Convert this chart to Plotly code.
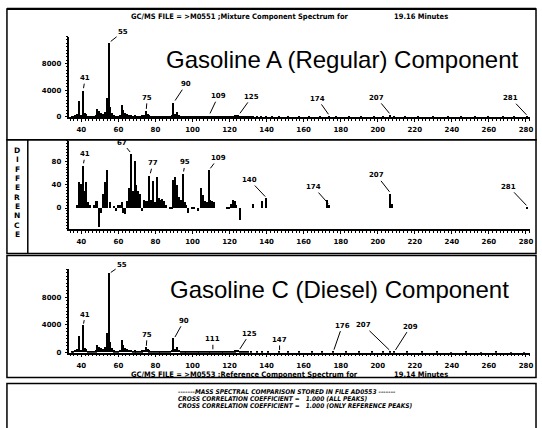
import plotly.graph_objects as go

W, H = 542, 428


def px(x):
    return x / W


def py(y):
    return 1 - y / H


# ---------------- data ----------------
x_ticks = [40, 60, 80, 100, 120, 140, 160, 180, 200, 220, 240, 260, 280]

# Mixture component spectrum (top panel)
mix_mz = [35, 36, 37, 38, 39, 40, 41, 42, 43, 44, 45, 46, 47, 48, 49, 50, 51, 52, 53, 54,
          55, 56, 57, 58, 59, 60, 61, 62, 63, 64, 65, 66, 67, 68, 69, 70, 71, 72, 73, 74,
          75, 76, 77, 78, 79, 80, 81, 82, 83, 84, 85, 86, 87, 88, 89, 90, 91, 92, 93, 94,
          95, 96, 97, 98, 99, 100, 101, 102, 103, 104, 105, 106, 107, 108, 109, 110, 111,
          112, 113, 114, 115, 116, 117, 118, 119, 120, 121, 122, 123, 124, 125, 126, 127,
          128, 129, 130, 131, 132, 133, 135, 137, 140, 143, 147, 152, 158, 163, 169, 174,
          178, 185, 191, 198, 203, 207, 209, 215, 222, 230, 238, 245, 253, 260, 268, 274, 281]
mix_int = [120, 200, 350, 450, 2400, 400, 4000, 600, 450, 250, 150, 100, 180, 300, 1300, 900,
           700, 450, 800, 2900, 11100, 1600, 700, 300, 250, 200, 350, 1900, 1100, 650, 500,
           400, 350, 250, 300, 200, 250, 200, 300, 350, 900, 450, 300, 250, 200, 150, 200,
           180, 120, 150, 130, 100, 120, 150, 350, 2200, 550, 800, 350, 250, 200, 150, 120,
           100, 130, 150, 120, 100, 130, 110, 150, 120, 130, 150, 250, 200, 150, 130, 120,
           100, 110, 100, 120, 130, 150, 180, 200, 250, 300, 350, 300, 250, 200, 150, 120,
           100, 90, 80, 100, 80, 70, 90, 70, 80, 60, 60, 50, 60, 150, 60, 50, 50, 60, 50,
           300, 120, 50, 50, 50, 40, 50, 40, 50, 40, 40, 100]

# Difference spectrum (middle panel)
diff_mz = [38, 39, 40, 41, 42, 43, 44, 45, 47, 48, 49, 50, 51, 52, 53, 54, 56, 58, 59, 60,
           61, 62, 63, 64, 65, 66, 67, 68, 69, 70, 71, 72, 73, 74, 75, 76, 77, 78, 79, 80,
           81, 82, 83, 84, 85, 86, 88, 89, 90, 91, 92, 93, 94, 95, 96, 97, 98, 100, 101,
           103, 105, 106, 107, 108, 109, 110, 111, 112, 119, 120, 121, 122, 123, 124, 126,
           133, 138, 140, 173, 174, 207, 208, 281]
diff_val = [5, 45, 42, 73, 30, 45, 10, 5, 5, 12, 13, -32, -8, 25, 45, 66, 10, 4, -5, 6,
            5, 10, -8, -10, 12, 35, 93, 30, 80, 40, 30, 25, -5, 15, 12, 12, 56, 15, 46, 10,
            53, 18, 15, 16, 12, 5, 2, 3, 48, 54, 40, 20, 15, 59, 10, 5, -8, 3, 2,
            -5, 34, 22, 12, 10, 65, 14, 12, 10, 2, 3, 8, 15, 12, 5, -20,
            8, 12, 17, 15, 5, 25, 8, 2]

# Reference component spectrum (bottom panel)
ref_mz = [35, 36, 37, 38, 39, 40, 41, 42, 43, 44, 45, 46, 47, 48, 49, 50, 51, 52, 53, 54,
          55, 56, 57, 58, 59, 60, 61, 62, 63, 64, 65, 66, 67, 68, 69, 70, 71, 72, 73, 74,
          75, 76, 77, 78, 79, 80, 81, 82, 83, 84, 85, 86, 87, 88, 89, 90, 91, 92, 93, 94,
          95, 96, 97, 98, 99, 100, 101, 102, 103, 104, 105, 106, 107, 108, 109, 110, 111,
          112, 113, 114, 115, 116, 117, 118, 119, 120, 121, 122, 123, 124, 125, 126, 127,
          128, 129, 130, 132, 135, 138, 141, 147, 152, 158, 165, 170, 176, 183, 190, 197,
          203, 207, 209, 216, 224, 232, 240, 248, 256, 264, 272, 279]
ref_int = [100, 180, 300, 400, 2300, 350, 3900, 550, 400, 220, 130, 90, 150, 250, 1100, 700,
           600, 400, 700, 2700, 11400, 1500, 650, 280, 220, 180, 300, 1800, 1000, 600, 450,
           350, 300, 220, 250, 180, 220, 180, 250, 300, 700, 400, 250, 220, 180, 130, 170,
           150, 100, 130, 110, 90, 100, 130, 300, 2000, 500, 750, 300, 220, 180, 130, 100,
           90, 110, 130, 100, 90, 110, 100, 130, 100, 110, 130, 180, 150, 200, 120, 100,
           90, 100, 90, 100, 110, 130, 150, 180, 220, 280, 320, 300, 230, 180, 130, 100,
           90, 70, 60, 50, 60, 100, 50, 50, 40, 50, 150, 40, 40, 50, 40, 200, 150, 40, 40,
           40, 30, 40, 30, 40, 30, 30]

# labelled peaks: (mass, text offset x, text offset y)
mix_labels = [(41, 2, -12), (55, 14, -11), (75, 1, -13), (90, 12, -18), (109, 9, -19),
              (125, 13, -18), (174, -12, -17), (207, -14, -17), (281, -17, -18)]
diff_labels = [(41, 2, -11), (67, -9, -11), (77, 3, -12), (95, 2, -11), (109, 9, -12),
               (140, -17, -18), (174, -16, -18), (207, -14, -18), (281, -19, -20)]
ref_labels = [(41, 2, -11), (55, 13, -9), (75, 1, -13), (90, 10, -18), (111, 0, -12),
              (125, 11, -17), (147, 0, -12), (176, 9, -26), (207, -27, -26), (209, 16, -25)]

title_top = "GC/MS FILE = >M0551 ;Mixture Component Spectrum for"
time_top = "19.16 Minutes"
title_bot = "GC/MS FILE = >M0553 ;Reference Component Spectrum for"
time_bot = "19.14 Minutes"
big_top = "Gasoline A (Regular) Component"
big_bot = "Gasoline C (Diesel) Component"
side_label = "DIFFERENCE"
summary = [
    "-------MASS SPECTRAL COMPARISON STORED IN FILE AD0553 -------",
    "CROSS CORRELATION COEFFICIENT =   1.000 (ALL PEAKS)",
    "CROSS CORRELATION COEFFICIENT =   1.000 (ONLY REFERENCE PEAKS)",
]

# ---------------- figure ----------------
fig = go.Figure()
bar_style = dict(marker=dict(color="black", line=dict(width=0)), width=0.6,
                 hoverinfo="skip", showlegend=False)
fig.add_trace(go.Bar(x=mix_mz, y=mix_int, xaxis="x", yaxis="y", **bar_style))
fig.add_trace(go.Bar(x=diff_mz, y=diff_val, xaxis="x2", yaxis="y2", **bar_style))
fig.add_trace(go.Bar(x=ref_mz, y=ref_int, xaxis="x3", yaxis="y3", **bar_style))

tickfont = dict(family="DejaVu Sans", size=7, color="black", weight="bold")
XMIN, XMAX = 33.6, 282.0
X0PX, SCALE = 70.0, 1.8664


def xaxis(anchor):
    return dict(range=[XMIN, XMAX], domain=[px(X0PX), px(X0PX + (XMAX - XMIN) * SCALE)],
                anchor=anchor, tickvals=x_ticks, ticktext=[str(t) for t in x_ticks],
                showline=True, linecolor="black", linewidth=1.5,
                ticks="outside", ticklen=3, tickwidth=1, tickcolor="black",
                minor=dict(dtick=2, tick0=0, ticklen=2, ticks="outside",
                           tickcolor="black", tickwidth=1, showgrid=False),
                showgrid=False, zeroline=False, tickfont=tickfont,
                ticklabelstandoff=2, fixedrange=True)


def yaxis(anchor, dom, rng, tv, mdt):
    return dict(range=rng, domain=dom, anchor=anchor, tickvals=tv,
                ticktext=[str(t) for t in tv],
                showline=True, linecolor="black", linewidth=1.5,
                ticks="outside", ticklen=3, tickwidth=1, tickcolor="black",
                minor=dict(dtick=mdt, ticklen=2, ticks="outside",
                           tickcolor="black", tickwidth=1, showgrid=False),
                showgrid=False, zeroline=False, tickfont=tickfont,
                ticklabelstandoff=2, fixedrange=True)


lblfont = dict(family="DejaVu Sans", size=7, color="black", weight="bold")
annotations = []


def add_peak_labels(labels, mz, vals, xr, yr):
    lookup = dict(zip(mz, vals))
    for m, ax, ay in labels:
        annotations.append(dict(x=m, y=lookup[m], xref=xr, yref=yr, text=str(m),
                                showarrow=True, arrowhead=0, arrowwidth=1,
                                arrowcolor="black", ax=ax, ay=ay, standoff=2,
                                font=lblfont))


add_peak_labels(mix_labels, mix_mz, mix_int, "x", "y")
add_peak_labels(diff_labels, diff_mz, diff_val, "x2", "y2")
add_peak_labels(ref_labels, ref_mz, ref_int, "x3", "y3")

hdrfont = dict(family="Liberation Sans Narrow, DejaVu Sans Condensed, Liberation Sans",
               size=7.5, color="black", weight="bold")
for txt, x, y, anc in [(title_top, 130, 17, "left"), (time_top, 453, 17, "right"),
                       (title_bot, 130, 378, "left"), (time_bot, 453, 378, "right")]:
    annotations.append(dict(x=px(x), y=py(y), xref="paper", yref="paper", text=txt,
                            showarrow=False, xanchor=anc, yanchor="middle", font=hdrfont))

bigfont = dict(family="Liberation Sans, Arial", size=24, color="black")
annotations.append(dict(x=px(345), y=py(60), xref="paper", yref="paper", text=big_top,
                        showarrow=False, xanchor="center", yanchor="middle", font=bigfont))
annotations.append(dict(x=px(342), y=py(292), xref="paper", yref="paper", text=big_bot,
                        showarrow=False, xanchor="center", yanchor="middle", font=bigfont))

for i, ch in enumerate(side_label):
    annotations.append(dict(x=px(17.5), y=py(152 + i * 9.4), xref="paper", yref="paper",
                            text=ch, showarrow=False, xanchor="center", yanchor="middle",
                            font=dict(family="DejaVu Sans", size=7.5, color="black",
                                      weight="bold")))

sumfont = dict(family="Liberation Sans Narrow, DejaVu Sans Condensed, Liberation Sans",
               size=6.5, color="black", weight="bold", style="italic")
for i, line in enumerate(summary):
    annotations.append(dict(x=px(177), y=py(396 + i * 7), xref="paper", yref="paper",
                            text=line, showarrow=False, xanchor="left", yanchor="middle",
                            font=sumfont))

# ---------------- frames ----------------
shapes = []


def rect(x0, y0, x1, y1, w=1.5):
    shapes.append(dict(type="rect", xref="paper", yref="paper", x0=px(x0), x1=px(x1),
                       y0=py(y0), y1=py(y1), line=dict(color="black", width=w),
                       fillcolor="rgba(0,0,0,0)", layer="above"))


def line(x0, y0, x1, y1, w=1.5):
    shapes.append(dict(type="line", xref="paper", yref="paper", x0=px(x0), x1=px(x1),
                       y0=py(y0), y1=py(y1), line=dict(color="black", width=w),
                       layer="above"))


rect(7, 9, 540, 141)
line(7, 9, 540, 9, 2.2)
rect(7, 141, 540, 256)
line(28, 141, 28, 256)
rect(7, 258, 540, 381)
rect(7, 387, 540, 440)

fig.update_layout(
    width=W, height=H, margin=dict(l=0, r=0, t=0, b=0),
    paper_bgcolor="white", plot_bgcolor="white", showlegend=False, bargap=0,
    xaxis=xaxis("y"), xaxis2=xaxis("y2"), xaxis3=xaxis("y3"),
    yaxis=yaxis("x", [py(118), py(37)], [0, 12000], [0, 4000, 8000], 500),
    yaxis2=yaxis("x2", [py(231), py(142)], [-35.6, 115], [0, 40, 80], 5),
    yaxis3=yaxis("x3", [py(356), py(272)], [0, 12000], [0, 4000, 8000], 500),
    annotations=annotations, shapes=shapes,
)

fig.write_html("out.html", config={"displayModeBar": False},
               post_script="document.body.style.margin='0';"
                           "document.body.style.overflow='hidden';")
